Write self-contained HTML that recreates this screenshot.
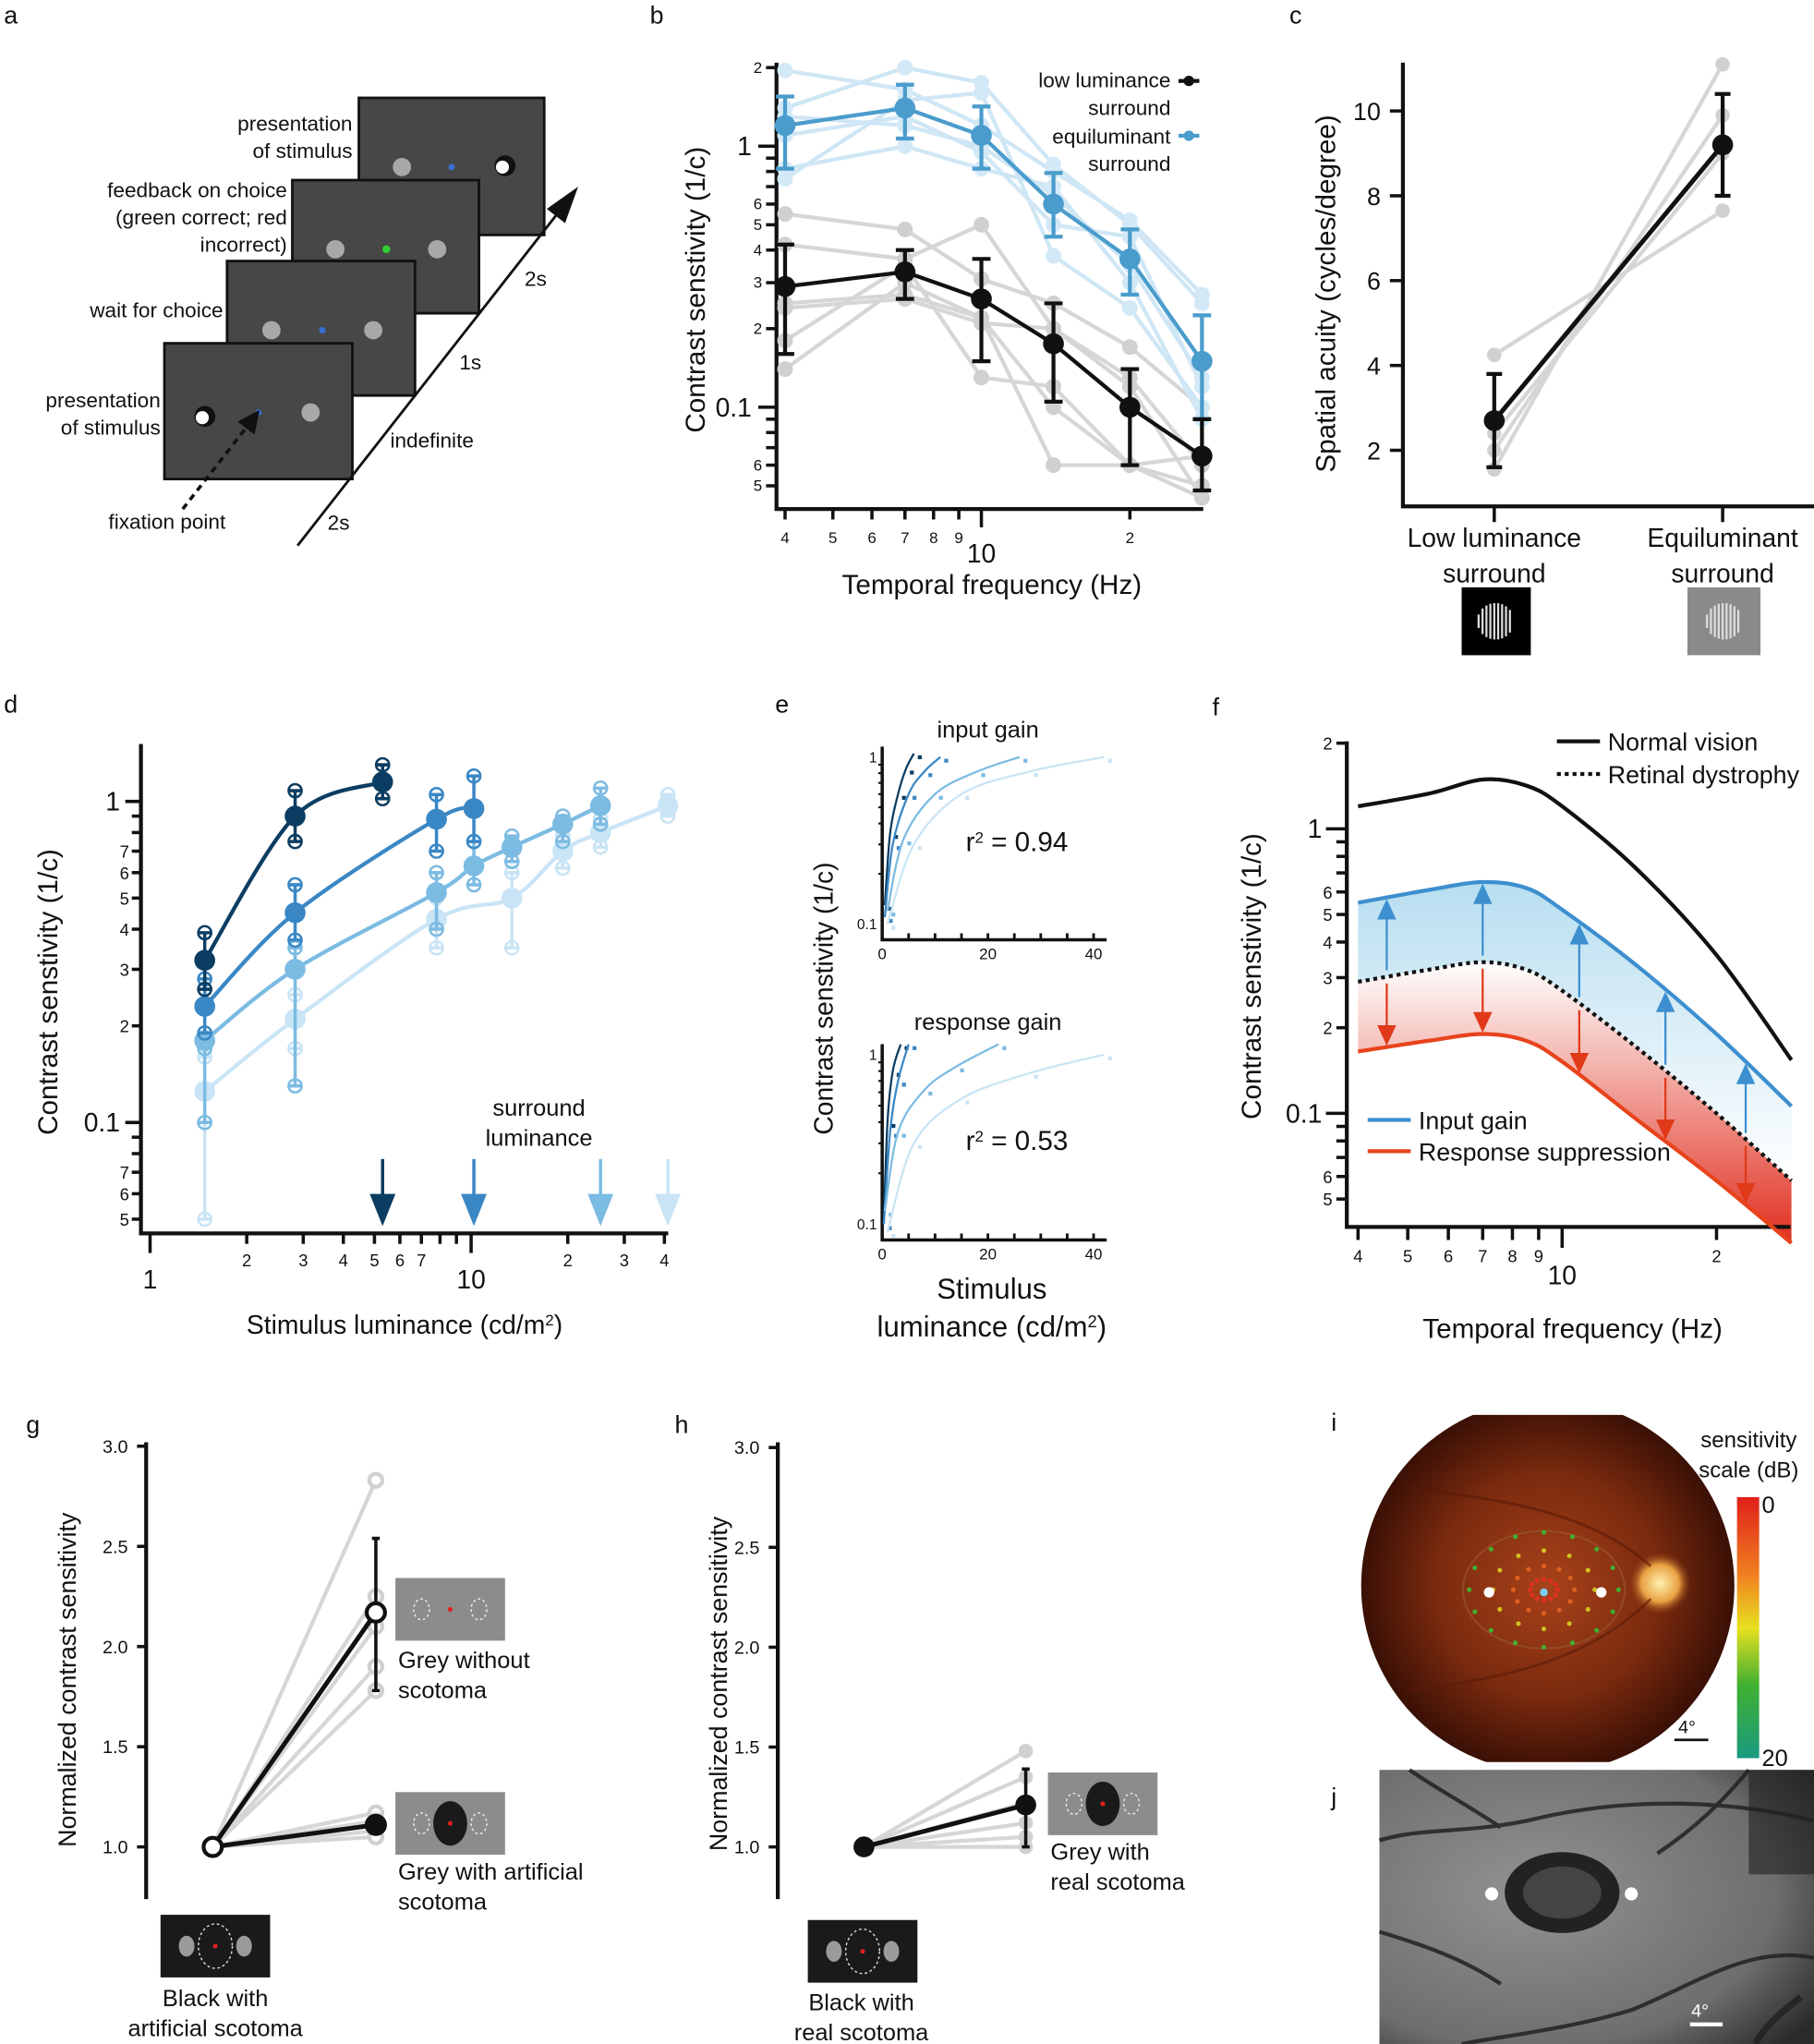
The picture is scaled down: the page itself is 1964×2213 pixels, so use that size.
<!DOCTYPE html>
<html><head><meta charset="utf-8">
<style>
html,body{margin:0;padding:0;background:#fff;}
svg{display:block;font-family:"Liberation Sans",Arial,sans-serif;}
.t{fill:#111;}
</style></head>
<body>
<svg id="fig" width="1964" height="2213" viewBox="0 0 1390 1566" preserveAspectRatio="none" xmlns="http://www.w3.org/2000/svg">
<defs>
<linearGradient id="gBlue" x1="0" y1="0" x2="0" y2="1"><stop offset="0" stop-color="#b8def0"/><stop offset="1" stop-color="#ffffff"/></linearGradient>
<linearGradient id="gRed" x1="0" y1="0" x2="0" y2="1"><stop offset="0" stop-color="#ffffff"/><stop offset="1" stop-color="#e03020"/></linearGradient>
<linearGradient id="gBar" x1="0" y1="0" x2="0" y2="1"><stop offset="0" stop-color="#e0201a"/><stop offset="0.3" stop-color="#f08020"/><stop offset="0.5" stop-color="#e8e020"/><stop offset="0.72" stop-color="#40b030"/><stop offset="1" stop-color="#1a9a80"/></linearGradient>
<radialGradient id="gFundus" cx="0.5" cy="0.5" r="0.5"><stop offset="0" stop-color="#a8421a"/><stop offset="0.6" stop-color="#7a2a0e"/><stop offset="1" stop-color="#3a1005"/></radialGradient>
<radialGradient id="gDisc" cx="0.5" cy="0.5" r="0.5"><stop offset="0" stop-color="#fff2b0"/><stop offset="0.6" stop-color="#e8a040"/><stop offset="1" stop-color="#8a3a18" stop-opacity="0"/></radialGradient>
<radialGradient id="gJ" cx="0.35" cy="0.45" r="0.8"><stop offset="0" stop-color="#929292"/><stop offset="0.7" stop-color="#6e6e6e"/><stop offset="1" stop-color="#2a2a2a"/></radialGradient>
<clipPath id="clipI"><rect x="1040" y="1084" width="300" height="266"/></clipPath>
</defs>

<!-- panel letters -->
<g font-size="19" class="t">
<text x="3" y="18">a</text>
<text x="498" y="18">b</text>
<text x="988" y="18">c</text>
<text x="3" y="546">d</text>
<text x="594" y="546">e</text>
<text x="929" y="548">f</text>
<text x="20" y="1098">g</text>
<text x="517" y="1098">h</text>
<text x="1020" y="1096">i</text>
<text x="1020" y="1383">j</text>
</g>

<!-- panel a -->
<g font-size="16" class="t">
<rect x="275" y="75" width="142" height="105" fill="#474747" stroke="#111" stroke-width="2"/>
<circle cx="308" cy="128" r="7" fill="#a8a8a8"/>
<circle cx="346" cy="128" r="2.5" fill="#3a6fd0"/>
<circle cx="387" cy="127" r="8" fill="#111"/>
<circle cx="385" cy="128" r="5" fill="#fff"/>
<rect x="224" y="138" width="143" height="102" fill="#474747" stroke="#111" stroke-width="2"/>
<circle cx="257" cy="191" r="7" fill="#a8a8a8"/>
<circle cx="335" cy="191" r="7" fill="#a8a8a8"/>
<circle cx="296" cy="191" r="3" fill="#30d030"/>
<rect x="174" y="200" width="144" height="103" fill="#474747" stroke="#111" stroke-width="2"/>
<circle cx="208" cy="253" r="7" fill="#a8a8a8"/>
<circle cx="286" cy="253" r="7" fill="#a8a8a8"/>
<circle cx="247" cy="253" r="2.5" fill="#3a6fd0"/>
<rect x="126" y="263" width="144" height="104" fill="#474747" stroke="#111" stroke-width="2"/>
<circle cx="157" cy="319" r="8" fill="#111"/>
<circle cx="155" cy="320" r="5" fill="#fff"/>
<circle cx="198" cy="316" r="2.5" fill="#3a6fd0"/>
<circle cx="238" cy="316" r="7" fill="#a8a8a8"/>
<line x1="140" y1="390" x2="190" y2="326" stroke="#111" stroke-width="2.5" stroke-dasharray="5,4"/>
<polygon points="199,314 195,333 182,323" fill="#111"/>
<line x1="228" y1="418" x2="430" y2="160" stroke="#111" stroke-width="2"/>
<polygon points="443,143 433,171 419,160" fill="#111"/>
<text x="251" y="406">2s</text>
<text x="299" y="343">indefinite</text>
<text x="352" y="283">1s</text>
<text x="402" y="219">2s</text>
<text x="270" y="100" text-anchor="end">presentation</text>
<text x="270" y="121" text-anchor="end">of stimulus</text>
<text x="220" y="151" text-anchor="end">feedback on choice</text>
<text x="220" y="172" text-anchor="end">(green correct; red</text>
<text x="220" y="193" text-anchor="end">incorrect)</text>
<text x="171" y="243" text-anchor="end">wait for choice</text>
<text x="123" y="312" text-anchor="end">presentation</text>
<text x="123" y="333" text-anchor="end">of stimulus</text>
<text x="128" y="405" text-anchor="middle">fixation point</text>
</g>

<!-- panel i -->
<g>
<circle cx="1186" cy="1215" r="143" fill="url(#gFundus)" clip-path="url(#clipI)"/>
<circle cx="1272" cy="1213" r="24" fill="url(#gDisc)"/>
<g stroke="#5a1a08" fill="none" stroke-width="2" opacity="0.6">
<path d="M1265,1200 C1220,1160 1160,1150 1080,1140"/>
<path d="M1265,1225 C1220,1270 1160,1285 1080,1295"/>
</g>
<ellipse cx="1183" cy="1218" rx="62" ry="45" fill="none" stroke="#9a5a30" stroke-width="1.5" opacity="0.6"/>
<g id="iDots"></g>
<circle cx="1141" cy="1220" r="4" fill="#fff"/>
<circle cx="1227" cy="1220" r="4" fill="#fff"/>
<line x1="1283" y1="1333" x2="1309" y2="1333" stroke="#111" stroke-width="2"/>
<text x="1286" y="1328" font-size="14" class="t">4°</text>
<rect x="1331" y="1147" width="17" height="200" fill="url(#gBar)"/>
<text x="1350" y="1159" font-size="18" class="t">0</text>
<text x="1350" y="1353" font-size="18" class="t">20</text>
<text x="1340" y="1109" font-size="17" text-anchor="middle" class="t">sensitivity</text>
<text x="1340" y="1132" font-size="17" text-anchor="middle" class="t">scale (dB)</text>
</g>

<!-- panel j -->
<g>
<rect x="1057" y="1356" width="333" height="210" fill="url(#gJ)"/>
<g stroke="#222" fill="none" stroke-width="3" opacity="0.85">
<path d="M1390,1395 C1330,1380 1250,1375 1170,1395 C1120,1405 1090,1400 1057,1410"/>
<path d="M1390,1500 C1340,1490 1300,1520 1250,1540 C1200,1555 1150,1560 1120,1566"/>
<path d="M1340,1356 C1320,1380 1300,1400 1270,1420"/>
<path d="M1380,1530 C1360,1545 1350,1556 1345,1566" stroke-width="5"/>
<path d="M1150,1400 C1120,1380 1100,1370 1080,1356"/>
<path d="M1057,1480 C1090,1490 1120,1500 1150,1520"/>
</g>
<rect x="1340" y="1356" width="50" height="80" fill="#222" opacity="0.6"/>
<ellipse cx="1197" cy="1450" rx="44" ry="31" fill="#222"/>
<ellipse cx="1197" cy="1450" rx="30" ry="20" fill="#444"/>
<circle cx="1143" cy="1451" r="5" fill="#fff"/>
<circle cx="1250" cy="1451" r="5" fill="#fff"/>
<line x1="1295" y1="1551" x2="1320" y2="1551" stroke="#fff" stroke-width="3"/>
<text x="1296" y="1545" font-size="14" fill="#fff">4°</text>
</g>

<g id="charts"></g>
</svg>

<script>
// ---------- data ----------
const bFreq=[4,7,10,14,20,28];
const bLowMean=[0.29,0.33,0.26,0.175,0.1,0.065];
const bLowHi=[0.42,0.40,0.37,0.25,0.14,0.09];
const bLowLo=[0.16,0.26,0.15,0.105,0.06,0.048];
const bEqMean=[1.2,1.4,1.1,0.6,0.37,0.15];
const bEqHi=[1.55,1.72,1.42,0.79,0.48,0.225];
const bEqLo=[0.82,1.07,0.82,0.45,0.27,0.09];
const bEqS1=[1.95,1.65,1.2,0.8,0.52,0.27];
const bEqS2=[1.4,2.0,1.75,0.85,0.5,0.25];
const bEqS3=[1.1,1.3,0.95,0.5,0.45,0.12];
const bEqS4=[0.82,1.0,0.82,0.7,0.3,0.09];
const bEqS5=[0.75,1.5,1.6,0.38,0.24,0.1];
const bEqS6=[1.3,1.2,1.0,0.65,0.35,0.13];
const bLowS1=[0.55,0.48,0.31,0.25,0.17,0.1];
const bLowS2=[0.42,0.37,0.5,0.2,0.13,0.06];
const bLowS3=[0.25,0.27,0.22,0.1,0.06,0.065];
const bLowS4=[0.18,0.35,0.13,0.12,0.06,0.05];
const bLowS5=[0.14,0.3,0.22,0.06,0.06,0.045];
const bLowS6=[0.24,0.26,0.21,0.2,0.12,0.045];

const cCats=['Low luminance','Equiluminant'];
const cMean=[2.7,9.2];
const cHi=[3.8,10.4];
const cLo=[1.6,8.0];
const cS1=[4.25,7.65];
const cS2=[1.55,11.1];
const cS3=[2.0,9.9];
const cS4=[2.4,9.0];

const dLumDark=[1.48,2.83,5.3];
const dMeanDark=[0.32,0.9,1.15];
const dHiDark=[0.39,1.08,1.3];
const dLoDark=[0.26,0.75,1.02];
const dLumMid=[1.48,2.83,7.8,10.2];
const dMeanMid=[0.23,0.45,0.88,0.95];
const dHiMid=[0.28,0.55,1.05,1.2];
const dLoMid=[0.19,0.37,0.7,0.75];
const dLumLight=[1.48,2.83,7.8,10.2,13.4,19.3,25.3];
const dMeanLight=[0.18,0.3,0.52,0.63,0.72,0.85,0.97];
const dHiLight=[0.17,0.35,0.6,0.75,0.78,0.9,1.1];
const dLoLight=[0.1,0.13,0.4,0.55,0.65,0.75,0.85];
const dLumPale=[1.48,2.83,7.8,13.4,19.3,25.3,41];
const dMeanPale=[0.125,0.21,0.43,0.5,0.7,0.8,0.97];
const dHiPale=[0.16,0.25,0.5,0.6,0.78,0.88,1.05];
const dLoPale=[0.05,0.17,0.35,0.35,0.62,0.72,0.9];
const dSurround=[5.3,10.2,25.3,41];

const eInLDark=[0.5,1.5,3,4.5,6], eInVDark=[0.13,0.35,0.6,0.85,1.05];
const eInLMid=[0.5,2,5,8,11], eInVMid=[0.11,0.3,0.6,0.82,1.0];
const eInLLight=[1,4,10,18,26], eInVLight=[0.12,0.32,0.6,0.82,1.0];
const eInLPale=[1,6,15,28,42], eInVPale=[0.1,0.3,0.6,0.82,1.0];
const eRgLDark=[0.3,1,2,3.5], eRgVDark=[0.1,0.4,0.8,1.15];
const eRgLMid=[0.3,1.5,3,5], eRgVMid=[0.1,0.35,0.7,1.15];
const eRgLLight=[0.5,3,8,14,22], eRgVLight=[0.12,0.35,0.62,0.85,1.15];
const eRgLPale=[1,6,15,28,42], eRgVPale=[0.09,0.3,0.55,0.78,1.0];

const fFreq=[4,5.5,7,8.5,10,14,20,28];
const fNormal=[1.2,1.33,1.49,1.42,1.2,0.72,0.36,0.154];
const fInput=[0.55,0.61,0.65,0.62,0.52,0.33,0.19,0.106];
const fDyst=[0.29,0.32,0.34,0.32,0.27,0.17,0.1,0.058];
const fSupp=[0.165,0.18,0.19,0.18,0.152,0.095,0.058,0.035];
const fArrowF=[4.55,7,10.8,15.9,22.8];

const gSubjTop=[2.83,2.25,2.1,1.9,1.78];
const gTopMean=[2.17], gTopHi=[2.54], gTopLo=[1.78];
const gSubjBot=[1.17,1.13,1.08,1.05];
const gBotMean=[1.11], gBotHi=[1.14], gBotLo=[1.08];
const hSubj=[1.48,1.35,1.22,1.12,1.05,1.0];
const hMean=[1.21], hHi=[1.39], hLo=[1.0];

// ---------- helpers ----------
const NS='http://www.w3.org/2000/svg';
const root=document.getElementById('charts');
function mk(p,tag,a){const e=document.createElementNS(NS,tag);for(const k in a)e.setAttribute(k,a[k]);p.appendChild(e);return e;}
function txt(p,x,y,s,size,anchor){const e=mk(p,'text',{x:x,y:y,'font-size':size,'text-anchor':anchor||'start',fill:'#111'});e.textContent=s;return e;}
function smooth(pts){let d='M'+pts[0][0]+','+pts[0][1];for(let i=0;i<pts.length-1;i++){const p0=pts[i-1]||pts[i],p1=pts[i],p2=pts[i+1],p3=pts[i+2]||p2;d+=' C'+(p1[0]+(p2[0]-p0[0])/6)+','+(p1[1]+(p2[1]-p0[1])/6)+' '+(p2[0]-(p3[0]-p1[0])/6)+','+(p2[1]-(p3[1]-p1[1])/6)+' '+p2[0]+','+p2[1];}return d;}
const L10=Math.log10;
function interp(xs,ys,x){for(let i=0;i<xs.length-1;i++){if(x>=xs[i]&&x<=xs[i+1]){const t=(L10(x)-L10(xs[i]))/(L10(xs[i+1])-L10(xs[i]));return Math.pow(10,L10(ys[i])+t*(L10(ys[i+1])-L10(ys[i])));}}return ys[ys.length-1];}

// ---------- panel b ----------
(function(){
const g=mk(root,'g',{});


const bx=f=>752+378*L10(f/10), by=v=>112-200*L10(v);
const ax=mk(g,'path',{d:'M595,48 V390 H922',stroke:'#111','stroke-width':3,fill:'none'});


[2,1,0.9,0.8,0.7,0.6,0.5,0.4,0.3,0.2,0.1,0.09,0.08,0.07,0.06,0.05].forEach(v=>{
 const major=(v===1||v===0.1);
 const t=mk(g,'line',{x1:major?581:587,x2:595,y1:by(v),y2:by(v),stroke:'#111','stroke-width':2.5});
 
 
 const lab={2:'2',1:'1',0.6:'6',0.5:'5',0.4:'4',0.3:'3',0.2:'2',0.1:'0.1',0.06:'6',0.05:'5'}[v];
 if(lab){const e=txt(g,major?576:584,by(v)+(major?7:4),lab,major?20:12,'end');
 
 }
});
[4,5,6,7,8,9,10,20].forEach(f=>{
 const t=mk(g,'line',{x1:bx(f),x2:bx(f),y1:390,y2:f===10?404:398,stroke:'#111','stroke-width':2.5});
 
 
 const e=f===10?txt(g,bx(f),431,'10',20,'middle'):txt(g,bx(f),416,f===20?'2':String(f),12,'middle');
 
 
});
function series(arr,stroke,fill,w,r,name){
 const d='M'+arr.map((v,i)=>bx(bFreq[i])+','+by(v)).join(' L');
 const p=mk(g,'path',{d:d,stroke:stroke,'stroke-width':w,fill:'none'});
 
 
 arr.forEach((v,i)=>{const c=mk(g,'circle',{cx:bx(bFreq[i]),cy:by(v),r:r,fill:fill});
 
 });
}
[bLowS1,bLowS2,bLowS3,bLowS4,bLowS5,bLowS6].forEach(s=>series(s,'#d6d6d6','#d0d0d0',3,6,'low-subject'));
[bEqS1,bEqS2,bEqS3,bEqS4,bEqS5,bEqS6].forEach(s=>series(s,'#cfe6f5','#d3e9f7',3,6,'equi-subject'));
function errs(hi,lo,col,name){hi.forEach((h,i)=>{const x=bx(bFreq[i]);
 const e=mk(g,'path',{d:`M${x},${by(h)} V${by(lo[i])} M${x-7},${by(h)} h14 M${x-7},${by(lo[i])} h14`,stroke:col,'stroke-width':3,fill:'none'});
 
 });}
errs(bEqHi,bEqLo,'#4a9ccc','equi');
errs(bLowHi,bLowLo,'#111','low');
series(bEqMean,'#4a9ccc','#4a9ccc',3,8,'equi-mean');
series(bLowMean,'#111','#111',3,8,'low-mean');
const yl=txt(g,0,0,'Contrast senstivity (1/c)',21,'middle');
yl.setAttribute('transform','translate(540,222) rotate(-90)');


const xl=txt(g,760,455,'Temporal frequency (Hz)',21,'middle');


[['low luminance',67],['surround',88],['equiluminant',110],['surround',131]].forEach(a=>{const e=txt(g,897,a[1],a[0],16,'end');
 
 });
const l1=mk(g,'path',{d:'M903,62 h16',stroke:'#111','stroke-width':3});


const l1c=mk(g,'circle',{cx:911,cy:62,r:4,fill:'#111'});


const l2=mk(g,'path',{d:'M903,104 h16',stroke:'#4a9ccc','stroke-width':3});


const l2c=mk(g,'circle',{cx:911,cy:104,r:4,fill:'#4a9ccc'});


})();

// ---------- panel c ----------
(function(){
const g=mk(root,'g',{});


const cx=[1145,1320], cy=v=>345-(v-2)*32.5;
const ax=mk(g,'path',{d:'M1075,48 V388 H1390',stroke:'#111','stroke-width':3,fill:'none'});


[2,4,6,8,10].forEach(v=>{
 const t=mk(g,'line',{x1:1065,x2:1075,y1:cy(v),y2:cy(v),stroke:'#111','stroke-width':2.5});
 
 
 const e=txt(g,1058,cy(v)+7,String(v),19,'end');
 
 
});
cx.forEach((x,i)=>{
 const t=mk(g,'line',{x1:x,x2:x,y1:388,y2:400,stroke:'#111','stroke-width':2.5});
 
 
 const a=txt(g,x,419,cCats[i],20,'middle');
 
 
 const b=txt(g,x,446,'surround',20,'middle');
 
 
});
[cS1,cS2,cS3,cS4].forEach(s=>{
 const p=mk(g,'path',{d:`M${cx[0]},${cy(s[0])} L${cx[1]},${cy(s[1])}`,stroke:'#d6d6d6','stroke-width':3});
 
 
 s.forEach((v,i)=>{const c=mk(g,'circle',{cx:cx[i],cy:cy(v),r:5.5,fill:'#d0d0d0'});
 
 });
});
const m=mk(g,'path',{d:`M${cx[0]},${cy(cMean[0])} L${cx[1]},${cy(cMean[1])}`,stroke:'#111','stroke-width':3.5});


cMean.forEach((v,i)=>{
 const x=cx[i];
 const e=mk(g,'path',{d:`M${x},${cy(cHi[i])} V${cy(cLo[i])} M${x-6},${cy(cHi[i])} h12 M${x-6},${cy(cLo[i])} h12`,stroke:'#111','stroke-width':3,fill:'none'});
 
 
 const c=mk(g,'circle',{cx:x,cy:cy(v),r:8,fill:'#111'});
 
 
});
const yl=txt(g,0,0,'Spatial acuity (cycles/degree)',21,'middle');
yl.setAttribute('transform','translate(1023,225) rotate(-90)');


const r1=mk(g,'rect',{x:1120,y:450,width:53,height:52,fill:'#000'});


const r2=mk(g,'rect',{x:1293,y:450,width:56,height:52,fill:'#8a8a8a'});


[1146,1321].forEach(x=>{for(let k=-13;k<=13;k+=3){const h=Math.sqrt(Math.max(0,196-k*k));
 const l=mk(g,'line',{x1:x+k,x2:x+k,y1:476-h,y2:476+h,stroke:'#ddd','stroke-width':1.6});
 
 }});
})();

// ---------- panel d ----------
(function(){
const g=mk(root,'g',{});


const dx=v=>115+246*L10(v), dy=v=>614-246*L10(v);
const ax=mk(g,'path',{d:'M108,570 V945 H512',stroke:'#111','stroke-width':3,fill:'none'});


[1,0.9,0.8,0.7,0.6,0.5,0.4,0.3,0.2,0.1,0.09,0.08,0.07,0.06,0.05].forEach(v=>{
 const major=(v===1||v===0.1);
 const t=mk(g,'line',{x1:major?96:101,x2:108,y1:dy(v),y2:dy(v),stroke:'#111','stroke-width':2.5});
 
 
 const lab={1:'1',0.7:'7',0.6:'6',0.5:'5',0.4:'4',0.3:'3',0.2:'2',0.1:'0.1',0.07:'7',0.06:'6',0.05:'5'}[v];
 if(lab){const e=txt(g,major?92:99,dy(v)+(major?7:5),lab,major?20:13,'end');
 
 }
});
[1,2,3,4,5,6,7,8,9,10,20,30,40].forEach(v=>{
 const major=(v===1||v===10);
 const t=mk(g,'line',{x1:dx(v),x2:dx(v),y1:945,y2:major?960:953,stroke:'#111','stroke-width':2.5});
 
 
 let lab=major?String(v):(v<8?String(v):(v>=20?String(v/10):''));
 if(lab){const e=txt(g,dx(v),major?987:970,lab,major?20:13,'middle');
 
 }
});
const groups=[[dLumPale,dMeanPale,dHiPale,dLoPale,'#c9e4f5','pale'],[dLumLight,dMeanLight,dHiLight,dLoLight,'#7cbbe2','light'],[dLumMid,dMeanMid,dHiMid,dLoMid,'#3a87c5','mid'],[dLumDark,dMeanDark,dHiDark,dLoDark,'#0b3d62','dark']];
groups.forEach(gr=>{
 const [lx,mv,hi,lo,col,nm]=gr;
 const p=mk(g,'path',{d:smooth(lx.map((l,i)=>[dx(l),dy(mv[i])])),stroke:col,'stroke-width':3,fill:'none'});
 
 
 lx.forEach((l,i)=>{const x=dx(l);
  const e=mk(g,'path',{d:`M${x},${dy(hi[i])} V${dy(lo[i])} M${x-5},${dy(hi[i])} h10 M${x-5},${dy(lo[i])} h10`,stroke:col,'stroke-width':2.5,fill:'none'});
  
  
  [hi[i],lo[i]].forEach(v=>{const o=mk(g,'circle',{cx:x,cy:dy(v),r:5,fill:'none',stroke:col,'stroke-width':1.8});
  
  });
  const c=mk(g,'circle',{cx:x,cy:dy(mv[i]),r:8,fill:col});
  
  });
});
const acol=['#0b3d62','#3a87c5','#7cbbe2','#c9e4f5'];
dSurround.forEach((s,i)=>{const x=dx(s);
 const a=mk(g,'path',{d:`M${x},888 V918 M${x-8},916 L${x},936 L${x+8},916 Z`,stroke:acol[i],'stroke-width':2.5,fill:acol[i]});
 
 });
const s1=txt(g,413,855,'surround',18,'middle');


const s2=txt(g,413,878,'luminance',18,'middle');


const yl=txt(g,0,0,'Contrast senstivity (1/c)',21,'middle');
yl.setAttribute('transform','translate(44,760) rotate(-90)');


const xl=txt(g,310,1022,'Stimulus luminance (cd/m',20,'middle');
const sup=mk(xl,'tspan',{'baseline-shift':'super','font-size':12});sup.textContent='2';
const cl=mk(xl,'tspan',{});cl.textContent=')';


})();

// ---------- panel e ----------
(function(){
const g=mk(root,'g',{});


const ex=L=>676+L*4.05;
const cols=['#0b3d62','#3a87c5','#7cbbe2','#c9e4f5'];
function sub(top,y1,y0,title,r2,sets,nm){
 const ey=v=>y1-(y0-y1)*L10(v);
 const ax=mk(g,'path',{d:`M676,${y1-8} V${y0+12} H848`,stroke:'#111','stroke-width':2.5,fill:'none'});
 
 
 [1,0.1].forEach(v=>{const e=txt(g,672,ey(v)+4,v===1?'1':'0.1',11,'end');
  
  });
 [0.9,0.8,0.7,0.6,0.5,0.4,0.3,0.2].forEach(v=>{const t=mk(g,'line',{x1:673,x2:676,y1:ey(v),y2:ey(v),stroke:'#111','stroke-width':1.5});
  
  });
 [0,5,10,15,20,25,30,35,40].forEach(L=>{const t=mk(g,'line',{x1:ex(L),x2:ex(L),y1:y0+12,y2:y0+7,stroke:'#111','stroke-width':2});
  
  
  if(L%20===0){const e=txt(g,ex(L),y0+27,String(L),12,'middle');
  
  }});
 const tt=txt(g,757,top,title,18,'middle');
 
 
 const rr=txt(g,740,(y1+y0)/2+8,'r',21,'start');
 const sp=mk(rr,'tspan',{'baseline-shift':'super','font-size':12});sp.textContent='2';
 const rest=mk(rr,'tspan',{});rest.textContent=' = '+r2;
 
 
 sets.forEach((s,i)=>{
  const p=mk(g,'path',{d:smooth(s[0].map((L,j)=>[ex(L),ey(s[1][j])])),stroke:cols[i],'stroke-width':1.6,fill:'none'});
  
  
  s[0].forEach((L,j)=>{const d=mk(g,'rect',{x:ex(L)+3,y:ey(s[1][j]*0.95)-1.5,width:3,height:3,fill:cols[i]});
  
  });
 });
}
sub(565,580,708,'input gain','0.94',[[eInLDark,eInVDark],[eInLMid,eInVMid],[eInLLight,eInVLight],[eInLPale,eInVPale]],'input-gain');
sub(789,808,938,'response gain','0.53',[[eRgLDark,eRgVDark],[eRgLMid,eRgVMid],[eRgLLight,eRgVLight],[eRgLPale,eRgVPale]],'response-gain');
const yl=txt(g,0,0,'Contrast senstivity (1/c)',20,'middle');
yl.setAttribute('transform','translate(638,765) rotate(-90)');


const x1=txt(g,760,995,'Stimulus',22,'middle');


const x2=txt(g,760,1024,'luminance (cd/m',22,'middle');
const s=mk(x2,'tspan',{'baseline-shift':'super','font-size':13});s.textContent='2';
const c=mk(x2,'tspan',{});c.textContent=')';


})();

// ---------- panel f ----------
(function(){
const g=mk(root,'g',{});


const fx=f=>1197+393*L10(f/10), fy=v=>635-218*L10(v);
const pts=a=>a.map((v,i)=>[fx(fFreq[i]),fy(v)]);
const inP=pts(fInput), dyP=pts(fDyst), suP=pts(fSupp);
function band(top,bot){const dt=smooth(top);const rb=bot.slice().reverse();return dt+' L'+smooth(rb).slice(1)+' Z';}
const b1=mk(g,'path',{d:band(inP,dyP),fill:'url(#gBlue)'});


const b2=mk(g,'path',{d:band(dyP,suP),fill:'url(#gRed)'});


const ax=mk(g,'path',{d:'M1032,568 V940 H1372',stroke:'#111','stroke-width':3,fill:'none'});


[2,1,0.9,0.8,0.7,0.6,0.5,0.4,0.3,0.2,0.1,0.09,0.08,0.07,0.06,0.05].forEach(v=>{
 const major=(v===1||v===0.1);
 const t=mk(g,'line',{x1:major?1016:1024,x2:1032,y1:fy(v),y2:fy(v),stroke:'#111','stroke-width':2.5});
 
 
 const lab={2:'2',1:'1',0.6:'6',0.5:'5',0.4:'4',0.3:'3',0.2:'2',0.1:'0.1',0.06:'6',0.05:'5'}[v];
 if(lab){const e=txt(g,major?1013:1021,fy(v)+(major?7:5),lab,major?20:13,'end');
 
 }
});
[4,5,6,7,8,9,10,20].forEach(f=>{
 const t=mk(g,'line',{x1:fx(f),x2:fx(f),y1:940,y2:f===10?956:950,stroke:'#111','stroke-width':2.5});
 
 
 const e=f===10?txt(g,fx(f),984,'10',20,'middle'):txt(g,fx(f),967,f===20?'2':String(f),13,'middle');
 
 
});
const n=mk(g,'path',{d:smooth(pts(fNormal)),stroke:'#111','stroke-width':3,fill:'none'});


const ip=mk(g,'path',{d:smooth(inP),stroke:'#3d8fcf','stroke-width':3,fill:'none'});


const sp=mk(g,'path',{d:smooth(suP),stroke:'#e8431c','stroke-width':3,fill:'none'});


const dp=mk(g,'path',{d:smooth(dyP),stroke:'#111','stroke-width':3,fill:'none','stroke-dasharray':'3,3'});


fArrowF.forEach(f=>{
 const x=fx(f), yd=fy(interp(fFreq,fDyst,f)), yi=fy(interp(fFreq,fInput,f)), ys=fy(interp(fFreq,fSupp,f));
 const a=mk(g,'path',{d:`M${x},${yd-5} V${yi+4} M${x-6},${yi+16} L${x},${yi+3} L${x+6},${yi+16} Z`,stroke:'#3d8fcf','stroke-width':1.6,fill:'#3d8fcf'});
 
 
 const b=mk(g,'path',{d:`M${x},${yd+5} V${ys-4} M${x-6},${ys-16} L${x},${ys-3} L${x+6},${ys-16} Z`,stroke:'#e03a1a','stroke-width':1.6,fill:'#e03a1a'});
 
 
});
const leg=[[1193,568,'#111','','Normal vision'],[1193,593,'#111','3,3','Retinal dystrophy'],[1048,858,'#3d8fcf','','Input gain'],[1048,882,'#e8431c','','Response suppression']];
leg.forEach(l=>{
 const s=mk(g,'line',{x1:l[0],x2:l[0]+33,y1:l[1],y2:l[1],stroke:l[2],'stroke-width':3,'stroke-dasharray':l[3]||'none'});
 
 
 const t=txt(g,l[0]+39,l[1]+7,l[4],19,'start');
 
 
});
const yl=txt(g,0,0,'Contrast senstivity (1/c)',21,'middle');
yl.setAttribute('transform','translate(966,748) rotate(-90)');


const xl=txt(g,1205,1025,'Temporal frequency (Hz)',21,'middle');


})();

// ---------- panels g, h ----------
function thumb(g,x,y,bg,scot,black){
 const r=mk(g,'rect',{x:x,y:y,width:84,height:48,fill:bg});
 
 
 const cx=x+42, cy=y+24;
 if(scot){const s=mk(g,'ellipse',{cx:cx,cy:cy,rx:13,ry:17,fill:'#1a1a1a'});
  
  }
 if(black){
  const d=mk(g,'ellipse',{cx:cx,cy:cy,rx:13,ry:17,fill:'none',stroke:'#ddd','stroke-width':1,'stroke-dasharray':'2,2'});
  
  
  [cx-22,cx+22].forEach(px=>{const c=mk(g,'ellipse',{cx:px,cy:cy,rx:6,ry:8,fill:'#9a9a9a'});
  
  });
 } else {
  [cx-22,cx+22].forEach(px=>{const c=mk(g,'ellipse',{cx:px,cy:cy,rx:6,ry:8,fill:'none',stroke:'#eee','stroke-width':1,'stroke-dasharray':'2,2'});
  
  });
 }
 const f=mk(g,'circle',{cx:cx,cy:cy,r:1.8,fill:'#e02020'});
 
 
}
function yAxis(g,x,yy){
 const ax=mk(g,'line',{x1:x,x2:x,y1:1105,y2:1455,stroke:'#111','stroke-width':3});
 
 
 [1.0,1.5,2.0,2.5,3.0].forEach(v=>{
  const t=mk(g,'line',{x1:x-7,x2:x,y1:yy(v),y2:yy(v),stroke:'#111','stroke-width':2.5});
  
  
  const e=txt(g,x-14,yy(v)+5,v.toFixed(1),14,'end');
  
  
 });
}
(function(){
const g=mk(root,'g',{});


const gx=[163,288], gy=v=>1415-(v-1)*153.5;
yAxis(g,112,gy);
gSubjTop.concat(gSubjBot).forEach(v=>{
 const l=mk(g,'line',{x1:gx[0],y1:gy(1),x2:gx[1],y2:gy(v),stroke:'#d6d6d6','stroke-width':3});
 
 
 const c=mk(g,'circle',{cx:gx[1],cy:gy(v),r:5,fill:'#fff',stroke:'#d0d0d0','stroke-width':3});
 
 
});
[[gTopMean,gTopHi,gTopLo,true],[gBotMean,gBotHi,gBotLo,false]].forEach(s=>{
 const m=s[0][0];
 const l=mk(g,'line',{x1:gx[0],y1:gy(1),x2:gx[1],y2:gy(m),stroke:'#111','stroke-width':3.5});
 
 
 const e=mk(g,'path',{d:`M${gx[1]},${gy(s[1][0])} V${gy(s[2][0])} M${gx[1]-3},${gy(s[1][0])} h6 M${gx[1]-3},${gy(s[2][0])} h6`,stroke:'#111','stroke-width':2.5,fill:'none'});
 
 
 const c=mk(g,'circle',{cx:gx[1],cy:gy(m),r:7,fill:s[3]?'#fff':'#111',stroke:'#111','stroke-width':3});
 
 
});
const c0=mk(g,'circle',{cx:gx[0],cy:gy(1),r:7,fill:'#fff',stroke:'#111','stroke-width':3});


thumb(g,303,1209,'#8c8c8c',false,false);
thumb(g,303,1373,'#8c8c8c',true,false);
thumb(g,123,1467,'#1a1a1a',false,true);
[['Grey without',305,1278],['scotoma',305,1301],['Grey with artificial',305,1440],['scotoma',305,1463]].forEach(a=>{const e=txt(g,a[1],a[2],a[0],18,'start');
 
 });
[['Black with',165,1537],['artificial scotoma',165,1560]].forEach(a=>{const e=txt(g,a[1],a[2],a[0],18,'middle');
 
 });
const yl=txt(g,0,0,'Normalized contrast sensitivity',19,'middle');
yl.setAttribute('transform','translate(58,1287) rotate(-90)');


})();
(function(){
const g=mk(root,'g',{});


const hx=[662,786], hy=v=>1415-(v-1)*153;
yAxis(g,596,hy);
hSubj.forEach(v=>{
 const l=mk(g,'line',{x1:hx[0],y1:hy(1),x2:hx[1],y2:hy(v),stroke:'#d6d6d6','stroke-width':3});
 
 
 const c=mk(g,'circle',{cx:hx[1],cy:hy(v),r:5.5,fill:'#d0d0d0'});
 
 
});
const l=mk(g,'line',{x1:hx[0],y1:hy(1),x2:hx[1],y2:hy(hMean[0]),stroke:'#111','stroke-width':3.5});


const e=mk(g,'path',{d:`M${hx[1]},${hy(hHi[0])} V${hy(hLo[0])} M${hx[1]-3},${hy(hHi[0])} h6 M${hx[1]-3},${hy(hLo[0])} h6`,stroke:'#111','stroke-width':2.5,fill:'none'});


const m=mk(g,'circle',{cx:hx[1],cy:hy(hMean[0]),r:8,fill:'#111'});


const c0=mk(g,'circle',{cx:hx[0],cy:hy(1),r:8,fill:'#111'});


thumb(g,803,1358,'#8c8c8c',true,false);
thumb(g,619,1471,'#1a1a1a',false,true);
[['Grey with',805,1425],['real scotoma',805,1448]].forEach(a=>{const t=txt(g,a[1],a[2],a[0],18,'start');
 
 });
[['Black with',660,1540],['real scotoma',660,1563]].forEach(a=>{const t=txt(g,a[1],a[2],a[0],18,'middle');
 
 });
const yl=txt(g,0,0,'Normalized contrast sensitivity',19,'middle');
yl.setAttribute('transform','translate(557,1290) rotate(-90)');


})();

// ---------- fundus dots (panel i) ----------
(function(){
const g=document.getElementById('iDots');
const ring=[[1183,1218,8,'#e03020',12],[1183,1218,18,'#e06020',12],[1183,1218,30,'#d0c020',12],[1183,1218,44,'#40b030',16]];
ring.forEach(r=>{for(let k=0;k<r[4];k++){const a=k*2*Math.PI/r[4];
 const c=mk(g,'circle',{cx:r[0]+r[2]*1.3*Math.cos(a),cy:r[1]+r[2]*Math.sin(a),r:1.8,fill:r[3]});
 
 }});
const x=mk(g,'circle',{cx:1183,cy:1220,r:3,fill:'#7ad0ff'});


})();
</script>
</body></html>
